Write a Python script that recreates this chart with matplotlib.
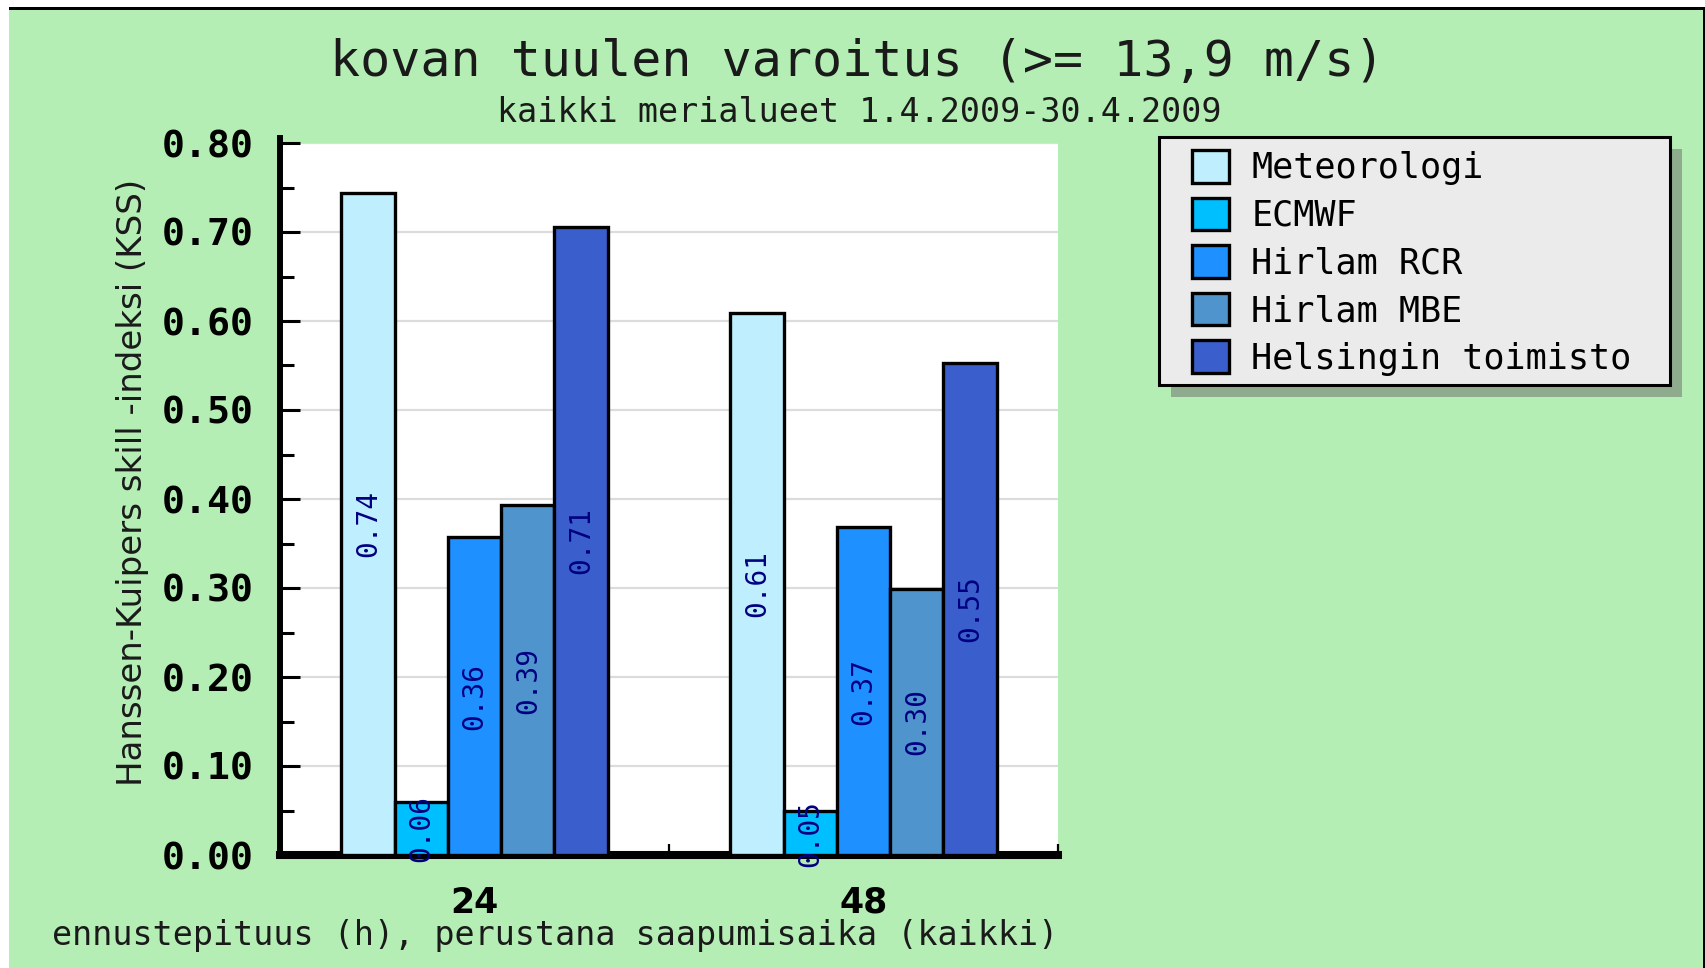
import matplotlib
matplotlib.use("Agg")
import matplotlib.pyplot as plt
from matplotlib.patches import Rectangle
import numpy as np

# ---- data ----
categories = ["24", "48"]
series_names = ["Meteorologi", "ECMWF", "Hirlam RCR", "Hirlam MBE", "Helsingin toimisto"]
meteorologi = [0.744, 0.609]
ecmwf = [0.059, 0.049]
hirlam_rcr = [0.357, 0.368]
hirlam_mbe = [0.393, 0.299]
helsinki = [0.706, 0.553]
series_values = [meteorologi, ecmwf, hirlam_rcr, hirlam_mbe, helsinki]
colors = ["#bfeffe", "#00bfff", "#1e90ff", "#4f94cd", "#3a5fcd"]
yticks = [0.0, 0.1, 0.2, 0.3, 0.4, 0.5, 0.6, 0.7, 0.8]

title = "kovan tuulen varoitus (>= 13,9 m/s)"
subtitle = "kaikki merialueet 1.4.2009-30.4.2009"
ylabel = "Hanssen-Kuipers skill -indeksi (KSS)"
xlabel = "ennustepituus (h), perustana saapumisaika (kaikki)"

W, H = 1705, 968
fig = plt.figure(figsize=(W / 100, H / 100), dpi=100)
fig.patch.set_facecolor("white")

def fx(px):
    return px / W

def fy(py):
    return 1 - py / H

# background frame
fig.patches.append(Rectangle((fx(9), 0), fx(1703 - 9), 1 - 10 / H, transform=fig.transFigure,
                             facecolor="#b4eeb4", edgecolor="none", zorder=-5))
fig.patches.append(Rectangle((fx(9), fy(10)), 1 - fx(9), 3 / H, transform=fig.transFigure,
                             facecolor="black", edgecolor="none", zorder=-4))
fig.patches.append(Rectangle((fx(1703), 0), fx(2), fy(10), transform=fig.transFigure,
                             facecolor="black", edgecolor="none", zorder=-4))

ax = fig.add_axes([fx(280), fy(855), fx(1058 - 280), (855 - 143) / H])
ax.set_facecolor("white")

x = np.arange(len(categories))
n = len(series_names)
bw = 0.137
bars = []
for i, (name, vals, c) in enumerate(zip(series_names, series_values, colors)):
    pos = x + (i - (n - 1) / 2) * bw
    b = ax.bar(pos, vals, width=bw, color=c, edgecolor="black", linewidth=2.4, label=name, zorder=3)
    bars.append(b)
    for p, v in zip(pos, vals):
        ax.text(p, v / 2, "%.2f" % v, rotation=90, ha="center", va="center",
                color="#000080", fontsize=20, family="DejaVu Sans Mono", zorder=4)

ax.set_xlim(-0.5, 1.5)
ax.set_ylim(0, 0.8)
ax.set_yticks(yticks)
ax.set_yticklabels(["%.2f" % t for t in yticks])
ax.set_yticks(np.array(yticks[:-1]) + 0.05, minor=True)
ax.tick_params(axis="y", which="major", direction="in", length=14.4, width=2.2, pad=19,
               labelsize=27.5)
ax.tick_params(axis="y", which="minor", direction="in", length=10, width=2.2)
for lab in ax.get_yticklabels():
    lab.set_family("DejaVu Sans Mono")
    lab.set_fontweight("bold")

ax.set_xticks(x)
ax.set_xticklabels(categories)
ax.set_xticks([0.5, 1.5], minor=True)
ax.tick_params(axis="x", which="major", length=0, pad=22, labelsize=25)
ax.tick_params(axis="x", which="minor", direction="in", length=8, width=1.6)
for lab in ax.get_xticklabels():
    lab.set_fontweight("bold")

ax.grid(axis="y", which="major", color="#dcdcdc", linewidth=1.6, zorder=0)
ax.set_axisbelow(True)
for s in ["top", "right"]:
    ax.spines[s].set_visible(False)
ax.spines["left"].set_linewidth(4.3)
ax.spines["bottom"].set_linewidth(5.8)
ax.spines["left"].set_bounds(0, 0.806)

# texts
txtc = "#1a1a1a"
fig.text(fx(857), fy(62), title, ha="center", va="center", fontsize=36,
         family="DejaVu Sans Mono", color=txtc)
fig.text(fx(859), fy(112), subtitle, ha="center", va="center", fontsize=24,
         family="DejaVu Sans Mono", color=txtc)
fig.text(fx(133), fy(482), ylabel, ha="center", va="center", rotation=90, fontsize=24.5,
         color=txtc)
fig.text(fx(555), fy(935), xlabel, ha="center", va="center", fontsize=24,
         family="DejaVu Sans Mono", color=txtc)

# legend box with shadow
lx0, ly0, lx1, ly1 = 1159, 137, 1670, 385
fig.patches.append(Rectangle((fx(lx0 + 12), fy(ly1 + 12)), fx(lx1 - lx0), (ly1 - ly0) / H,
                             transform=fig.transFigure, facecolor="#8eab8e", edgecolor="none", zorder=2))
fig.patches.append(Rectangle((fx(lx0), fy(ly1)), fx(lx1 - lx0), (ly1 - ly0) / H,
                             transform=fig.transFigure, facecolor="#ebebeb", edgecolor="black",
                             linewidth=2.2, zorder=3))
leg = fig.legend(handles=[b for b in bars], labels=series_names, loc="upper left",
                 bbox_to_anchor=(fx(1192), fy(150)), frameon=False,
                 prop={"family": "DejaVu Sans Mono", "size": 25.3},
                 handlelength=1.05, handleheight=1.05, handletextpad=0.64,
                 labelspacing=0.35, borderpad=0, borderaxespad=0)
leg.set_zorder(6)
for t in leg.get_texts():
    t.set_color("black")

fig.savefig("out.png", dpi=100, facecolor=fig.get_facecolor())
